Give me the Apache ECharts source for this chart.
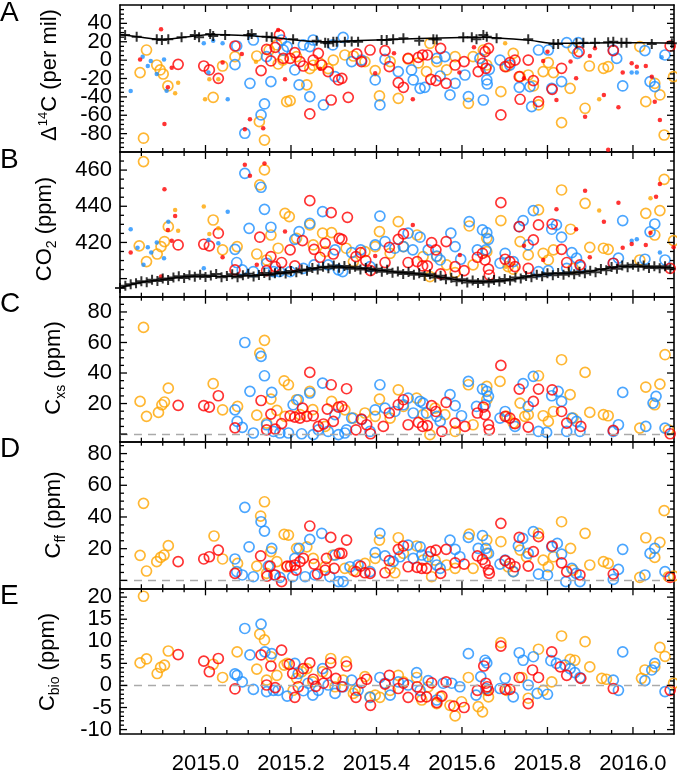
<!DOCTYPE html>
<html><head><meta charset="utf-8">
<script src="https://cdn.jsdelivr.net/npm/echarts@6/dist/echarts.min.js"></script>
<style>html,body{margin:0;padding:0;background:#fff}#c{width:677px;height:775px}</style>
</head><body><div id="c"></div>
<script>
// ---------------- X axis ----------------
const xMin = 2014.8, xMax = 2016.096;
const xTickLabels = [2015.0, 2015.2, 2015.4, 2015.6, 2015.8, 2016.0];

// ---------------- Panel A: Delta14C (per mil) ----------------
const d14cBgCross = [[2014.812,27.4],[2014.839,25.5],[2014.886,22.6],[2014.898,21.9],[2014.913,22.6],[2014.944,24.8],[2014.975,27.4],[2014.985,24.8],[2015.011,28.4],[2015.018,26.3],[2015.046,27.4],[2015.100,27.4],[2015.108,28.4],[2015.143,25.5],[2015.155,24.8],[2015.205,22.6],[2015.260,21.2],[2015.280,19],[2015.287,18.3],[2015.299,20.1],[2015.307,20.1],[2015.326,20.1],[2015.342,20.3],[2015.357,20.1],[2015.412,21.9],[2015.424,21.9],[2015.439,22.6],[2015.463,23.7],[2015.500,21.2],[2015.533,22.6],[2015.541,22.4],[2015.603,24.8],[2015.623,24.8],[2015.634,22.6],[2015.650,27.4],[2015.658,25.5],[2015.681,23.7],[2015.755,22.6],[2015.814,17.6],[2015.825,17.6],[2015.868,18.3],[2015.884,19],[2015.911,19],[2015.942,19.5],[2015.954,20.1],[2015.973,19],[2015.985,19],[2016.044,17.6],[2016.091,18.3]];
const d14cBgCurve = [[2014.8,28],[2014.85,25],[2014.9,22.5],[2014.96,25.5],[2015.02,28],[2015.1,26.5],[2015.15,25],[2015.2,22.5],[2015.27,20],[2015.32,20.5],[2015.4,22],[2015.5,23.5],[2015.6,24.5],[2015.65,25],[2015.7,23.5],[2015.76,21.5],[2015.81,18.5],[2015.87,18.5],[2015.95,19],[2016.02,19],[2016.096,18.5]];
const d14cOrange = [[2014.847,-13.6],[2014.862,11],[2014.886,-5.3],[2014.894,-10.7],[2014.901,-15.1],[2014.912,-28.1],[2014.855,-85],[2015.018,-40.5],[2015.040,-6.4],[2015.069,3.8],[2015.120,4.5],[2015.126,-67],[2015.138,-87],[2015.149,11],[2015.190,-45.2],[2015.198,-44.1],[2015.170,-4.2],[2015.181,0.1],[2015.213,3.8],[2015.237,-27],[2015.244,-9.3],[2015.252,-5.6],[2015.268,-3.5],[2015.287,-9.3],[2015.299,0.1],[2015.167,16.5],[2015.326,5.6],[2015.346,4.5],[2015.373,-1.6],[2015.397,-11.4],[2015.407,-39],[2015.432,-1.6],[2015.451,-41.6],[2015.474,1.2],[2015.498,-3.1],[2015.517,-12.5],[2015.525,18.3],[2015.541,-1.6],[2015.564,-10.7],[2015.584,3.8],[2015.615,-47],[2015.626,3.8],[2015.650,11],[2015.658,-5.3],[2015.691,-34.3],[2015.705,-7.1],[2015.720,7.4],[2015.736,-18],[2015.755,-16.2],[2015.767,-28.1],[2015.779,-48.8],[2015.790,-12.5],[2015.802,-2.7],[2015.814,-13.6],[2015.833,-68],[2015.853,-30.7],[2015.860,12.8],[2015.888,-52.4],[2015.898,-6.4],[2015.931,-8.9],[2015.942,-7.1],[2016.016,14.7],[2016.030,-45.2],[2016.051,-25.2],[2016.063,-37.9],[2016.073,-81.5],[2016.095,-18]];
const d14cOrangeDots = [[2014.936,-24.5],[2014.929,-36.1],[2014.999,-42.6],[2015.030,-20.9],[2015.009,-20.9],[2015.118,-1.8],[2015.701,18.3],[2015.921,-42.6]];
const d14cBlue = [[2015.069,-4.9],[2015.073,15.4],[2015.104,-25.2],[2015.112,21.9],[2015.092,-79.6],[2015.130,-59.7],[2015.138,-47.7],[2015.153,-23.4],[2015.143,3.8],[2015.178,21.9],[2015.191,14.7],[2015.209,-10.7],[2015.219,-27],[2015.244,-39.7],[2015.252,21.9],[2015.244,14.7],[2015.276,-48.8],[2015.298,16.5],[2015.303,-18],[2015.229,16.5],[2015.182,11],[2015.322,24.8],[2015.342,-1.6],[2015.365,0.1],[2015.397,-21.6],[2015.408,-48.8],[2015.420,0.8],[2015.451,-12.5],[2015.482,-10.7],[2015.486,-21.6],[2015.502,-30.7],[2015.513,-29.6],[2015.541,1.9],[2015.549,-17.3],[2015.560,3.8],[2015.572,-37.9],[2015.584,-25.2],[2015.607,-16.2],[2015.615,-39.7],[2015.642,1.9],[2015.650,-43.4],[2015.658,-21.6],[2015.659,-26],[2015.664,-10],[2015.689,0.1],[2015.712,-5.3],[2015.734,-29.6],[2015.759,-28.9],[2015.763,-50.6],[2015.779,11],[2015.802,11],[2015.810,-30.7],[2015.833,-23.4],[2015.845,19],[2015.872,19],[2015.870,7.4],[2015.954,11],[2015.962,1.9],[2015.976,-28.1],[2016.028,10.3],[2016.040,-23.4],[2016.051,-28.9],[2016.075,5.6]];
const d14cBlueDots = [[2014.825,-33.6],[2014.853,3.8],[2014.865,-6.4],[2014.872,-0.9],[2014.886,-15.1],[2014.903,0.8],[2014.909,-33.2],[2014.996,18.3],[2015.018,21.2],[2015.040,18.3],[2015.052,-42.6],[2015.007,-13.6],[2015.997,-13.6],[2016.009,-13.6],[2016.067,3]];
const d14cRed = [[2014.936,-4.6],[2014.996,-6.4],[2015.009,-10.7],[2015.030,-19.8],[2015.069,15.4],[2015.130,-11.4],[2015.153,-0.9],[2015.143,11.8],[2015.173,27.4],[2015.163,13.9],[2015.182,1.9],[2015.198,1.9],[2015.209,8.1],[2015.221,-1.6],[2015.229,-6.4],[2015.244,-58.6],[2015.252,0.1],[2015.264,7.4],[2015.272,-5.3],[2015.287,-12.5],[2015.294,-43.4],[2015.311,-21.6],[2015.319,-19.8],[2015.334,-40.5],[2015.354,6.7],[2015.365,-1.6],[2015.385,11],[2015.420,10.3],[2015.430,-7.1],[2015.451,-24.5],[2015.463,-29.6],[2015.474,1.9],[2015.498,3],[2015.508,5.6],[2015.519,5.6],[2015.527,-20.9],[2015.539,-22.3],[2015.550,12.8],[2015.563,-25.2],[2015.584,-5.3],[2015.605,-1.6],[2015.638,-12.5],[2015.648,-3.5],[2015.654,9.2],[2015.662,12.8],[2015.656,-8.9],[2015.691,-59.7],[2015.701,-7.1],[2015.712,-2.7],[2015.724,0.1],[2015.734,-18],[2015.736,-42.6],[2015.755,0.1],[2015.767,-22.3],[2015.779,-45.2],[2015.811,-31.8],[2015.833,-8.9],[2015.874,9.2],[2015.954,10.3],[2016.087,15.4]];
const d14cRedDots = [[2014.847,0.8],[2014.896,33.5],[2014.904,-69.4],[2014.912,-29.6],[2014.921,-8.2],[2015.040,-2.7],[2015.085,6.7],[2015.104,-64.4],[2015.092,-75.3],[2015.135,-74.2],[2015.170,32.8],[2015.186,-20.9],[2015.268,-9.3],[2015.397,-14.4],[2015.485,-42.6],[2015.594,-13.6],[2015.628,14],[2015.745,-19.8],[2015.790,-0.9],[2015.800,9.2],[2015.821,-43.4],[2015.854,-1.6],[2015.867,-19.8],[2015.888,-61.5],[2015.899,4.5],[2015.911,12.8],[2015.932,-37.9],[2015.966,-51.4],[2015.976,-13.6],[2015.997,-3.5],[2016.009,-7.1],[2016.030,-6.4],[2016.044,-18],[2016.051,-45.2],[2016.063,-65.1],[2015.441,7.4],[2015.942,-97.5]];

// ---------------- Panel B: CO2 (ppm) ----------------
const co2BgTime = [2014.8000,2014.8125,2014.8250,2014.8375,2014.8500,2014.8625,2014.8750,2014.8875,2014.9000,2014.9125,2014.9250,2014.9375,2014.9500,2014.9625,2014.9750,2014.9875,2015.0000,2015.0125,2015.0250,2015.0375,2015.0500,2015.0625,2015.0750,2015.0875,2015.1000,2015.1125,2015.1250,2015.1375,2015.1500,2015.1625,2015.1750,2015.1875,2015.2000,2015.2125,2015.2250,2015.2375,2015.2500,2015.2625,2015.2750,2015.2875,2015.3000,2015.3125,2015.3250,2015.3375,2015.3500,2015.3625,2015.3750,2015.3875,2015.4000,2015.4125,2015.4250,2015.4375,2015.4500,2015.4625,2015.4750,2015.4875,2015.5000,2015.5125,2015.5250,2015.5375,2015.5500,2015.5625,2015.5750,2015.5875,2015.6000,2015.6125,2015.6250,2015.6375,2015.6500,2015.6625,2015.6750,2015.6875,2015.7000,2015.7125,2015.7250,2015.7375,2015.7500,2015.7625,2015.7750,2015.7875,2015.8000,2015.8125,2015.8250,2015.8375,2015.8500,2015.8625,2015.8750,2015.8875,2015.9000,2015.9125,2015.9250,2015.9375,2015.9500,2015.9625,2015.9750,2015.9875,2016.0000,2016.0125,2016.0250,2016.0375,2016.0500,2016.0625,2016.0750,2016.0875];
const co2BgValue = [394.8,396.0,396.9,397.5,398.6,398.0,399.4,398.7,400.1,399.2,400.6,401.3,400.4,401.8,401.0,402.2,400.9,401.7,402.6,400.8,401.5,402.4,400.7,401.9,402.7,401.2,402.0,403.1,401.8,402.9,403.6,402.8,404.2,403.5,405.0,404.3,405.9,405.1,406.6,405.7,407.2,406.0,407.0,405.4,406.5,405.0,405.9,404.3,405.4,403.8,404.9,403.2,404.0,402.6,403.7,402.1,403.0,401.5,402.4,400.6,401.6,399.7,400.5,398.6,399.6,397.9,399.0,397.6,398.8,397.9,399.3,398.4,399.8,399.0,400.6,400.0,401.5,400.7,402.2,401.3,402.9,401.9,403.1,402.2,403.5,402.4,403.8,402.9,404.4,403.5,405.3,404.6,406.4,405.5,407.2,406.3,407.6,406.5,407.3,405.9,406.9,405.7,406.8,405.5];
const co2BgCurve = [[2014.8,395],[2014.85,398],[2014.9,399.5],[2014.95,401],[2015.0,401.5],[2015.05,401.2],[2015.1,401.6],[2015.15,402.3],[2015.2,403.5],[2015.25,405.5],[2015.3,406.5],[2015.35,405.8],[2015.4,404.8],[2015.45,403.5],[2015.5,402.5],[2015.55,400.8],[2015.6,399],[2015.65,398.3],[2015.7,399],[2015.75,401],[2015.8,402.5],[2015.85,403],[2015.9,404],[2015.95,406],[2016.0,406.8],[2016.05,406.4],[2016.096,406]];
const co2Orange = [[2014.855,464.7],[2014.845,418.1],[2014.862,409.4],[2014.887,413.6],[2014.896,417.7],[2014.904,420.5],[2014.913,428.7],[2015.018,432.4],[2015.040,415.9],[2015.074,417.7],[2015.120,413.6],[2015.127,451.8],[2015.138,460.1],[2015.153,424.1],[2015.143,410.3],[2015.186,436.1],[2015.196,434.3],[2015.170,416.8],[2015.213,422.3],[2015.244,429.7],[2015.252,418.6],[2015.274,425.1],[2015.295,425.4],[2015.280,414.9],[2015.329,416.8],[2015.346,409.4],[2015.373,414.9],[2015.397,417.7],[2015.407,426],[2015.432,414],[2015.451,431.5],[2015.463,417.7],[2015.495,424.1],[2015.509,412.2],[2015.525,401.1],[2015.541,412.2],[2015.564,407.6],[2015.584,403.3],[2015.617,429.1],[2015.626,407.6],[2015.658,422.3],[2015.658,414.9],[2015.691,432.1],[2015.708,406.6],[2015.720,405.2],[2015.736,420.5],[2015.755,413.1],[2015.779,438],[2015.790,414],[2015.802,410.3],[2015.814,415.9],[2015.833,449],[2015.854,427.3],[2015.860,405.7],[2015.888,441.6],[2015.899,417.3],[2015.931,416.8],[2015.942,416.2],[2016.016,410.3],[2016.030,436.1],[2016.051,424.1],[2016.063,437.6],[2016.073,454.9],[2016.095,421]];
const co2OrangeDots = [[2014.929,438],[2014.936,426.4],[2014.996,439.8],[2015.009,424.7],[2015.030,427.8],[2015.703,406.6],[2015.921,437.6],[2016.041,444.4]];
const co2Blue = [[2015.069,416.2],[2015.073,408.9],[2015.086,404.8],[2015.092,458.2],[2015.102,427.8],[2015.112,403.9],[2015.130,450.5],[2015.138,438.3],[2015.153,428.4],[2015.143,408.5],[2015.159,403.9],[2015.173,403.9],[2015.198,403.9],[2015.209,421.7],[2015.219,426],[2015.229,405.7],[2015.244,430.6],[2015.254,407.6],[2015.274,437],[2015.287,407.6],[2015.303,415.9],[2015.311,404.8],[2015.321,403.9],[2015.342,414.4],[2015.363,415.9],[2015.385,406.6],[2015.397,418.6],[2015.408,434.6],[2015.420,420.5],[2015.443,416.8],[2015.463,417.7],[2015.474,425.1],[2015.485,415.9],[2015.502,422.9],[2015.521,415.9],[2015.541,412.5],[2015.549,410.3],[2015.574,425.1],[2015.584,417.7],[2015.597,410.7],[2015.617,431.5],[2015.636,415.9],[2015.648,426.9],[2015.658,425.4],[2015.662,421.7],[2015.656,415.9],[2015.689,408.5],[2015.701,414],[2015.720,409.4],[2015.734,428.7],[2015.743,432.1],[2015.755,418.6],[2015.767,437.6],[2015.779,403.9],[2015.802,404.4],[2015.810,427.3],[2015.821,429.7],[2015.833,422.9],[2015.845,405.7],[2015.857,414.4],[2015.868,411.3],[2015.878,406.6],[2015.954,408.5],[2015.966,411.3],[2015.976,432.1],[2016.028,410.7],[2016.040,425.9],[2016.051,430.2],[2016.075,410.3]];
const co2BlueDots = [[2014.825,427.3],[2014.841,417.1],[2014.855,407.6],[2014.865,417.3],[2014.873,414.4],[2014.886,419.9],[2014.903,411.3],[2014.913,431.5],[2014.996,405.7],[2015.007,421.4],[2015.030,419.5],[2015.052,437],[2015.997,421],[2016.009,421.7],[2016.063,414.4]];
const co2Red = [[2014.936,418.6],[2014.996,419],[2015.009,418.1],[2015.030,425.1],[2015.069,404.8],[2015.127,422.9],[2015.153,412.2],[2015.143,404.4],[2015.163,406.6],[2015.178,408.9],[2015.198,415.9],[2015.209,407],[2015.227,421],[2015.244,443.1],[2015.254,416.2],[2015.268,411.8],[2015.280,419.5],[2015.294,436.5],[2015.299,413.6],[2015.313,422.3],[2015.319,421.7],[2015.332,433.9],[2015.352,412.2],[2015.363,414.4],[2015.375,410],[2015.386,404.4],[2015.420,408.9],[2015.430,417.3],[2015.451,421.7],[2015.463,424.7],[2015.474,408.9],[2015.495,409.4],[2015.508,407],[2015.519,407],[2015.529,419.9],[2015.539,415.9],[2015.550,402.6],[2015.563,420.5],[2015.584,406.6],[2015.605,404.4],[2015.636,411.8],[2015.648,414],[2015.654,410.3],[2015.662,405.2],[2015.664,402],[2015.691,442],[2015.701,410.7],[2015.712,409.4],[2015.724,406.6],[2015.734,428.7],[2015.755,405.7],[2015.767,421.4],[2015.779,429.7],[2015.811,430.2],[2015.833,416.2],[2015.845,408.9],[2015.876,407.6],[2015.954,408.5],[2016.087,405.7]];
const co2RedDots = [[2014.825,414.4],[2014.896,401.1],[2014.904,449.4],[2014.912,426.9],[2014.921,421],[2014.929,434.6],[2015.040,411.8],[2015.092,463],[2015.104,456.9],[2015.120,407.6],[2015.138,463.7],[2015.186,426],[2015.397,412.5],[2015.485,429.7],[2015.595,413.1],[2015.745,418.1],[2015.790,410.3],[2015.821,438.3],[2015.867,427.3],[2015.888,448.6],[2015.899,411.8],[2015.932,431.5],[2015.966,442],[2015.976,417.1],[2015.997,419.2],[2016.030,418.6],[2016.041,425.4],[2016.054,445.3],[2016.063,452.3],[2016.095,417.3]];

// ---------------- Panel C: Cxs (ppm) ----------------
const cxsOrange = [[2014.855,69.9],[2014.847,21.4],[2014.862,11.6],[2014.890,14.2],[2014.898,19.2],[2014.904,21],[2014.913,30.1],[2015.018,33],[2015.040,15.9],[2015.075,18.1],[2015.120,12.4],[2015.127,53],[2015.138,61.4],[2015.153,22.9],[2015.143,7.2],[2015.167,15.5],[2015.184,34.9],[2015.194,32.3],[2015.213,22.5],[2015.244,28],[2015.251,16],[2015.295,21.4],[2015.280,5],[2015.186,11.6],[2015.221,12.7],[2015.326,15.9],[2015.346,10.5],[2015.373,13.8],[2015.397,11.6],[2015.407,22.9],[2015.432,10.5],[2015.451,29],[2015.463,18.1],[2015.494,23.6],[2015.509,12.7],[2015.525,-0.4],[2015.537,17],[2015.560,12.7],[2015.584,1.7],[2015.615,32.3],[2015.626,6.1],[2015.658,22.5],[2015.658,31.2],[2015.689,34.5],[2015.705,11.6],[2015.720,7.2],[2015.736,20.3],[2015.747,11.6],[2015.755,12.7],[2015.779,38.2],[2015.790,12],[2015.802,8.3],[2015.814,14.8],[2015.833,48.7],[2015.853,25.8],[2015.860,10.5],[2015.888,40.4],[2015.899,14.2],[2015.931,12.7],[2015.942,12],[2016.016,3.9],[2016.030,30.8],[2016.051,19.2],[2016.063,32.7],[2016.075,52],[2016.083,2.8]];
const cxsBlue = [[2015.069,15.9],[2015.074,8.3],[2015.086,4.4],[2015.092,60],[2015.104,28],[2015.112,0.7],[2015.130,50.9],[2015.138,38.2],[2015.155,27.3],[2015.143,6.1],[2015.159,1.7],[2015.174,0.7],[2015.194,0.7],[2015.205,19.2],[2015.217,22.5],[2015.225,0.2],[2015.244,26.9],[2015.252,-0.4],[2015.274,33.4],[2015.287,1.7],[2015.303,12.7],[2015.311,-0.4],[2015.264,2.8],[2015.326,0.7],[2015.342,10.5],[2015.365,9.4],[2015.385,1.7],[2015.397,15.9],[2015.408,32.3],[2015.420,17],[2015.443,14.8],[2015.463,19.2],[2015.474,23.6],[2015.486,13.8],[2015.502,21.4],[2015.509,20.3],[2015.517,13.8],[2015.541,11.6],[2015.549,8.3],[2015.572,25.8],[2015.584,18.6],[2015.599,12],[2015.615,34.5],[2015.634,18.1],[2015.648,29.5],[2015.658,28],[2015.662,24.7],[2015.654,19.2],[2015.689,10.5],[2015.701,14.8],[2015.724,5],[2015.743,33],[2015.755,18.1],[2015.767,37.8],[2015.779,1.7],[2015.798,1.1],[2015.810,25.1],[2015.825,28],[2015.833,21.4],[2015.845,1.7],[2015.857,10.5],[2015.868,8.3],[2015.876,1.7],[2015.954,1.7],[2015.966,6.1],[2015.976,27.3],[2016.030,5],[2016.047,20.3],[2016.054,24.7],[2016.075,3.9],[2015.330,2.8]];
const cxsRed = [[2014.936,18.8],[2014.996,18.6],[2015.009,17.7],[2015.030,25.1],[2015.069,4.1],[2015.130,22],[2015.153,13.1],[2015.143,2.8],[2015.163,3.3],[2015.178,6.8],[2015.198,12],[2015.209,11.1],[2015.221,10.5],[2015.227,17],[2015.237,11.6],[2015.244,40.4],[2015.252,12],[2015.264,5],[2015.276,6.6],[2015.285,16.4],[2015.294,32.3],[2015.299,8.3],[2015.311,17.7],[2015.319,18.1],[2015.330,29.7],[2015.352,2.8],[2015.365,9.8],[2015.377,6.1],[2015.386,0.2],[2015.416,5],[2015.430,13.8],[2015.451,19.2],[2015.463,22.5],[2015.474,6.1],[2015.498,7.6],[2015.508,5],[2015.519,5.5],[2015.529,18.6],[2015.539,14.8],[2015.553,1.7],[2015.563,20.7],[2015.584,7.2],[2015.607,5],[2015.636,13.8],[2015.650,17.7],[2015.654,12.7],[2015.662,6.1],[2015.664,2.8],[2015.691,45],[2015.701,11.6],[2015.712,10.5],[2015.724,6.8],[2015.734,29.5],[2015.755,4.6],[2015.767,21.4],[2015.779,29.5],[2015.811,29],[2015.833,14.8],[2015.845,7.2],[2015.878,5],[2015.954,2.4],[2016.087,0.2]];

// ---------------- Panel D: Cff (ppm) ----------------
const cffOrange = [[2014.855,48.6],[2014.847,15.8],[2014.862,5.9],[2014.886,11.8],[2014.895,14.5],[2014.903,16],[2014.913,21.9],[2015.020,28],[2015.040,13.5],[2015.075,10.7],[2015.120,9],[2015.129,40.6],[2015.138,49.6],[2015.153,18.1],[2015.184,29],[2015.194,28.6],[2015.167,11.8],[2015.213,20.2],[2015.237,21.2],[2015.252,13.9],[2015.280,8.6],[2015.298,16],[2015.143,4.4],[2015.190,8.6],[2015.326,7.6],[2015.346,6.1],[2015.373,10.7],[2015.397,13.9],[2015.407,25.4],[2015.432,7.6],[2015.443,4.8],[2015.451,26.9],[2015.463,17],[2015.494,21.7],[2015.509,12.8],[2015.529,2.3],[2015.537,12.8],[2015.564,9.7],[2015.584,7.6],[2015.617,29.2],[2015.626,7.6],[2015.658,17],[2015.658,25.4],[2015.691,24.4],[2015.708,8.6],[2015.720,5.5],[2015.736,19.1],[2015.751,14.9],[2015.779,29.7],[2015.790,12.8],[2015.802,8.6],[2015.814,14.9],[2015.833,37],[2015.854,20.2],[2015.860,6.5],[2015.888,29.7],[2015.899,9.7],[2015.931,11.8],[2015.942,10.7],[2016.016,1.9],[2016.030,26.9],[2016.051,14.5],[2016.063,24],[2016.073,44],[2016.083,2.3],[2016.095,2.7]];
const cffBlue = [[2015.069,13.5],[2015.073,5.5],[2015.086,3.4],[2015.092,46.1],[2015.102,21.2],[2015.112,2.3],[2015.130,37],[2015.138,31.1],[2015.155,20.2],[2015.147,9],[2015.160,3.4],[2015.174,1.9],[2015.204,2.3],[2015.209,13.9],[2015.219,20.2],[2015.244,25.9],[2015.233,2.3],[2015.272,29.7],[2015.256,3.4],[2015.291,2.3],[2015.303,16],[2015.311,-0.8],[2015.322,-0.8],[2015.338,8.6],[2015.357,9.7],[2015.385,5.5],[2015.397,17.5],[2015.408,29.7],[2015.420,15.4],[2015.439,11.8],[2015.455,14.9],[2015.474,22.3],[2015.486,13.9],[2015.502,21.2],[2015.506,16],[2015.521,14.9],[2015.541,9.7],[2015.549,7.6],[2015.572,25.4],[2015.584,19.6],[2015.595,14.9],[2015.615,27.1],[2015.638,20.2],[2015.648,28.2],[2015.656,20.2],[2015.662,17],[2015.689,10.3],[2015.701,12.8],[2015.720,5.5],[2015.732,21.7],[2015.742,26.5],[2015.755,17],[2015.767,30.7],[2015.779,4],[2015.800,3.4],[2015.810,21.2],[2015.823,23.3],[2015.833,16.6],[2015.843,-0.8],[2015.857,7.6],[2015.867,4.4],[2015.876,-0.8],[2015.954,0.6],[2015.966,6.9],[2015.976,19.6],[2016.028,3.4],[2016.040,17],[2016.051,20.2],[2016.075,5.5]];
const cffRed = [[2014.936,11.8],[2014.996,13.5],[2015.009,14.9],[2015.030,19.1],[2015.069,4.4],[2015.129,15.4],[2015.151,9],[2015.144,2.7],[2015.163,3.4],[2015.178,-0.8],[2015.191,9],[2015.199,9],[2015.212,6.5],[2015.221,11.8],[2015.229,13.9],[2015.244,34.3],[2015.254,10.3],[2015.262,4],[2015.280,6.5],[2015.283,13.9],[2015.293,27.1],[2015.301,7.6],[2015.313,17],[2015.209,9.7],[2015.319,17],[2015.330,25.4],[2015.352,5.5],[2015.363,9],[2015.373,4.8],[2015.385,4.4],[2015.420,4.8],[2015.430,12.4],[2015.451,19.6],[2015.463,21.7],[2015.474,8.6],[2015.495,8.2],[2015.506,7.6],[2015.517,7.6],[2015.527,18.1],[2015.539,19.1],[2015.550,4.4],[2015.563,19.6],[2015.584,11.1],[2015.605,10.3],[2015.636,15.4],[2015.648,13.2],[2015.654,10.7],[2015.662,6.5],[2015.664,4.4],[2015.691,36],[2015.701,12.4],[2015.712,10.7],[2015.724,8.6],[2015.734,27.1],[2015.755,9],[2015.767,18.1],[2015.779,27.6],[2015.811,21.7],[2015.833,11.1],[2015.845,5.5],[2015.876,3.4],[2015.954,4],[2016.087,1.9]];

// ---------------- Panel E: Cbio (ppm) ----------------
const cbioOrange = [[2014.855,20.2],[2014.847,5.1],[2014.862,6],[2014.887,2.7],[2014.895,4.1],[2014.904,4.6],[2014.913,7.8],[2015.018,4.8],[2015.040,1.8],[2015.074,7.6],[2015.120,3.7],[2015.127,11.6],[2015.138,10.3],[2015.153,6.5],[2015.167,2.3],[2015.184,4.6],[2015.191,5],[2015.205,-1.1],[2015.225,3.1],[2015.237,3.8],[2015.251,0.8],[2015.274,3.1],[2015.293,6.1],[2015.303,-0.3],[2015.143,1.2],[2015.213,1.6],[2015.329,5.4],[2015.322,1.2],[2015.350,-1.1],[2015.373,2],[2015.397,-2.2],[2015.408,-2.7],[2015.432,-1.1],[2015.451,2.3],[2015.463,0.8],[2015.494,1.8],[2015.506,-3.3],[2015.521,-0.3],[2015.541,-4.1],[2015.549,-2.6],[2015.572,-4.5],[2015.584,-6.9],[2015.599,-3.7],[2015.615,1.8],[2015.638,-4.8],[2015.648,-6],[2015.658,-1.1],[2015.662,-2.6],[2015.691,9.7],[2015.705,-1.1],[2015.740,1.8],[2015.755,-2.9],[2015.779,8.2],[2015.790,-1.1],[2015.810,0.8],[2015.833,11.2],[2015.853,5.9],[2015.864,5.7],[2015.888,9.9],[2015.899,4.2],[2015.927,1.6],[2015.938,1.4],[2016.020,1.6],[2016.028,3.5],[2016.051,4.2],[2016.063,8.6],[2016.075,6.6],[2016.095,0.5],[2015.346,-1.8],[2015.385,-2.6]];
const cbioBlue = [[2015.069,2.6],[2015.074,2.3],[2015.086,0.8],[2015.092,12.9],[2015.104,6.9],[2015.112,-0.9],[2015.130,13.9],[2015.139,7.6],[2015.155,7.2],[2015.143,-1.4],[2015.159,-1.1],[2015.170,-1.1],[2015.191,-2.4],[2015.209,5],[2015.229,-1.2],[2015.217,2.7],[2015.251,-2.2],[2015.264,-1.1],[2015.274,3.8],[2015.287,0.1],[2015.303,-1.8],[2015.240,0.5],[2015.322,-0.3],[2015.342,1.2],[2015.357,-1.1],[2015.385,-2.7],[2015.408,1.8],[2015.420,0.5],[2015.432,-2.2],[2015.451,0.8],[2015.474,0.1],[2015.494,2.9],[2015.502,-1.1],[2015.521,1.1],[2015.541,-3.3],[2015.556,0.5],[2015.576,0.5],[2015.595,-0.3],[2015.615,7.2],[2015.633,-2.2],[2015.644,2],[2015.654,5.7],[2015.658,5.1],[2015.656,-0.7],[2015.689,-0.7],[2015.701,1.6],[2015.720,-2.6],[2015.734,7.4],[2015.743,5.7],[2015.755,0.1],[2015.767,6.5],[2015.776,-1.8],[2015.800,-2],[2015.808,5.6],[2015.821,5],[2015.841,4.6],[2015.853,3.8],[2015.864,2.9],[2015.876,1.8],[2015.954,1.2],[2015.966,-1.1],[2015.976,7.6],[2016.028,1.1],[2016.044,3.5],[2016.051,5],[2016.075,-1.4]];
const cbioRed = [[2014.936,7],[2014.996,5.5],[2015.009,3.1],[2015.030,6.1],[2015.069,-0.8],[2015.130,6.9],[2015.153,4.4],[2015.143,0.1],[2015.163,-0.5],[2015.178,8],[2015.196,4.8],[2015.204,2.7],[2015.209,-2.7],[2015.217,-0.3],[2015.229,3.8],[2015.244,5.1],[2015.252,1.4],[2015.258,-0.2],[2015.276,0.5],[2015.293,5.1],[2015.283,2.7],[2015.305,1.6],[2015.319,-0.3],[2015.330,4.4],[2015.352,-2.7],[2015.365,0.6],[2015.377,1.4],[2015.386,-4.5],[2015.420,0.3],[2015.430,2.3],[2015.451,-0.7],[2015.463,0.5],[2015.474,-2.7],[2015.495,-0.3],[2015.503,-2.6],[2015.517,-2.6],[2015.529,0.6],[2015.541,-3.9],[2015.553,-2.4],[2015.563,0.8],[2015.581,-4.7],[2015.605,-5],[2015.636,-1.1],[2015.651,4.4],[2015.656,0.5],[2015.659,-0.3],[2015.662,-1.1],[2015.691,8.9],[2015.701,-0.9],[2015.712,-0.9],[2015.734,1.8],[2015.755,-4.1],[2015.765,3.5],[2015.779,1.8],[2015.810,7.6],[2015.830,4.2],[2015.845,2.3],[2015.878,1.6],[2015.954,-0.7],[2016.087,-1.1]];

// ---------------- Y tick labels ----------------
const aTickLabels = [-80,-60,-40,-20,0,20,40];
const bTickLabels = [420,440,460];
const cTickLabels = [20,40,60,80];
const dTickLabels = [20,40,60,80];
const eTickLabels = [-10,-5,0,5,10,15,20];

// ---------------- Build ----------------
const ORANGE = '#FFA500', BLUE = '#1E90FF', RED = '#FF0000';
const FONT = 'Liberation Sans, Arial, Helvetica, sans-serif';
function inList(list, v) { return list.some(l => Math.abs(l - v) < 1e-6); }
function steps(a, b, s) { const r = []; const n = Math.round((b - a) / s); for (let k = 0; k <= n; k++) r.push(+(a + k * s).toFixed(4)); return r; }

const richName = {
  a: { fontSize: 22, fontFamily: FONT, fill: '#000' },
  sup: { fontSize: 13, fontFamily: FONT, fill: '#000', padding: [0, 0, 14, 0] },
  sub: { fontSize: 14, fontFamily: FONT, fill: '#000', padding: [14, 0, 0, 0] }
};

const panels = [
  { top: 5, bottom: 152, min: -100, max: 60, major: 20, minor: 5, labels: aTickLabels,
    name: '{a|Δ}{sup|14}{a|C (per mil)}', tx: 50, ty: 75, letter: 'A' },
  { top: 152, bottom: 296.7, min: 390, max: 470, major: 20, minor: 5, labels: bTickLabels,
    name: '{a|CO}{sub|2}{a| (ppm)}', tx: 45, ty: 229, letter: 'B' },
  { top: 296.7, bottom: 441.7, min: -5, max: 90, major: 20, minor: 5, labels: cTickLabels,
    name: '{a|C}{sub|xs}{a| (ppm)}', tx: 54, ty: 368, letter: 'C' },
  { top: 441.7, bottom: 588.3, min: -5, max: 87.5, major: 20, minor: 5, labels: dTickLabels,
    name: '{a|C}{sub|ff}{a| (ppm)}', tx: 54, ty: 515, letter: 'D' },
  { top: 588.3, bottom: 734, min: -11, max: 22, major: 5, minor: 1, labels: eTickLabels,
    name: '{a|C}{sub|bio}{a| (ppm)}', tx: 48, ty: 662, letter: 'E' }
];
const xMajor = 0.2, xMinor = 0.05;
const xTickValues = steps(2014.85, 2016.05, xMinor);

const grids = [], xAxes = [], yAxes = [], series = [], titles = [], graphics = [];

function stepAxis(base, min, max, step) {
  return Object.assign(base, {
    type: 'value', min: min, max: max,
    splitNumber: Math.max(1, Math.round((max - min) / step)),
    minInterval: step, maxInterval: step,
    splitLine: { show: false }, axisTick: { show: false }
  });
}
function isMultiple(v, s) { const q = v / s; return Math.abs(q - Math.round(q)) < 1e-6; }

panels.forEach((p, i) => {
  grids.push({ left: 120, width: 554, top: p.top, height: p.bottom - p.top, outerBoundsMode: 'none' });
  const isLast = i === panels.length - 1;
  ['bottom', 'top'].forEach(pos => {
    xAxes.push(stepAxis({
      gridIndex: i, position: pos,
      axisLine: { show: true, onZero: false, lineStyle: { color: '#000', width: 1.6 } },
      axisLabel: (isLast && pos === 'bottom') ? {
        show: true, margin: 20, lineHeight: 20, color: '#000', fontSize: 22, fontFamily: FONT,
        formatter: v => inList(xTickLabels, v) ? Number(v).toFixed(1) : ''
      } : { show: false }
    }, xMin, xMax, xMajor));
  });
  ['left', 'right'].forEach(pos => {
    yAxes.push(stepAxis({
      gridIndex: i, position: pos,
      axisLine: { show: true, onZero: false, lineStyle: { color: '#000', width: 1.6 } },
      axisLabel: pos === 'left' ? {
        show: true, margin: 8, lineHeight: 16, color: '#000', fontSize: 22, fontFamily: FONT,
        showMinLabel: true, showMaxLabel: true, hideOverlap: false,
        formatter: v => inList(p.labels, v) ? String(Math.round(v)) : ''
      } : { show: false }
    }, p.min, p.max, p.major));
  });
  titles.push({ text: p.letter, left: 0, top: p.top - 6, padding: 0,
    textStyle: { fontSize: 28, fontWeight: 'normal', fontFamily: FONT, color: '#000' } });
  graphics.push({ type: 'text', x: p.tx, y: p.ty, rotation: Math.PI / 2, silent: true,
    style: { text: p.name, rich: richName, align: 'center', verticalAlign: 'middle', fill: '#000',
      fontSize: 22, fontFamily: FONT } });
});

// Tick marks drawn through the axes' own scales (custom series, api.coord)
// item: [x, y, isMajor, side]  side: 0 left, 1 right, 2 bottom, 3 top
function tickSeries(p, i) {
  const data = [];
  const yVals = steps(p.min, p.max, p.minor).filter(v => v > p.min + 1e-9 && v < p.max - 1e-9);
  yVals.forEach(v => {
    const mj = isMultiple(v, p.major) ? 1 : 0;
    data.push([xMin, v, mj, 0]);
    data.push([xMax, v, mj, 1]);
  });
  xTickValues.forEach(t => {
    const mj = isMultiple(t, xMajor) ? 1 : 0;
    data.push([t, p.min, mj, 2]);
    data.push([t, p.max, mj, 3]);
  });
  return {
    type: 'custom', xAxisIndex: 2 * i, yAxisIndex: 2 * i, data: data, silent: true, clip: false, z: 5,
    dimensions: ['x', 'y', 'major', 'side'], encode: { x: 0, y: 1 },
    renderItem: function (params, api) {
      const pt = api.coord([api.value(0), api.value(1)]);
      const len = api.value(2) ? 7 : 4;
      const side = api.value(3);
      let x2 = pt[0], y2 = pt[1];
      if (side === 0) x2 += len; else if (side === 1) x2 -= len;
      else if (side === 2) y2 -= len; else y2 += len;
      return { type: 'line', shape: { x1: pt[0], y1: pt[1], x2: x2, y2: y2 },
        style: { stroke: '#000', lineWidth: 1.3 } };
    }
  };
}

function circles(data, color, i, extra) {
  return Object.assign({ type: 'scatter', xAxisIndex: 2 * i, yAxisIndex: 2 * i, data, symbol: 'circle', symbolSize: 10,
    itemStyle: { color: 'rgba(0,0,0,0)', borderColor: color, borderWidth: 1.7 }, clip: true }, extra || {});
}
function dots(data, color, i) {
  return { type: 'scatter', xAxisIndex: 2 * i, yAxisIndex: 2 * i, data, symbol: 'circle', symbolSize: 4.5,
    itemStyle: { color: color }, clip: true };
}
const CROSS = 'path://M4,0L6,0L6,4L10,4L10,6L6,6L6,10L4,10L4,6L0,6L0,4L4,4Z';
function crosses(data, i) {
  return { type: 'scatter', xAxisIndex: 2 * i, yAxisIndex: 2 * i, data, symbol: CROSS, symbolSize: 10,
    itemStyle: { color: '#000' }, clip: true };
}
function curve(data, i) {
  return { type: 'line', xAxisIndex: 2 * i, yAxisIndex: 2 * i, data, showSymbol: false, smooth: 0.4,
    lineStyle: { color: '#000', width: 1.5 }, clip: true };
}
const zeroLine = { silent: true, symbol: ['none', 'none'], label: { show: false },
  lineStyle: { color: '#aaaaaa', type: [8, 6], width: 1.3 }, data: [{ yAxis: 0 }] };

series.push(circles(d14cOrange, ORANGE, 0), circles(d14cBlue, BLUE, 0), circles(d14cRed, RED, 0),
  dots(d14cOrangeDots, ORANGE, 0), dots(d14cBlueDots, BLUE, 0), dots(d14cRedDots, RED, 0),
  curve(d14cBgCurve, 0), crosses(d14cBgCross, 0));
const co2Bg = co2BgTime.map((t, k) => [t, co2BgValue[k]]);
series.push(circles(co2Orange, ORANGE, 1), circles(co2Blue, BLUE, 1), circles(co2Red, RED, 1),
  dots(co2OrangeDots, ORANGE, 1), dots(co2BlueDots, BLUE, 1), dots(co2RedDots, RED, 1),
  curve(co2BgCurve, 1), crosses(co2Bg, 1));
series.push(circles(cxsOrange, ORANGE, 2, { markLine: zeroLine }), circles(cxsBlue, BLUE, 2), circles(cxsRed, RED, 2));
series.push(circles(cffOrange, ORANGE, 3, { markLine: zeroLine }), circles(cffBlue, BLUE, 3), circles(cffRed, RED, 3));
series.push(circles(cbioOrange, ORANGE, 4, { markLine: zeroLine }), circles(cbioBlue, BLUE, 4), circles(cbioRed, RED, 4));
panels.forEach((p, i) => series.push(tickSeries(p, i)));

const chart = echarts.init(document.getElementById('c'));
chart.setOption({
  animation: false,
  title: titles, grid: grids, xAxis: xAxes, yAxis: yAxes, series: series, graphic: graphics
});
</script></body></html>
